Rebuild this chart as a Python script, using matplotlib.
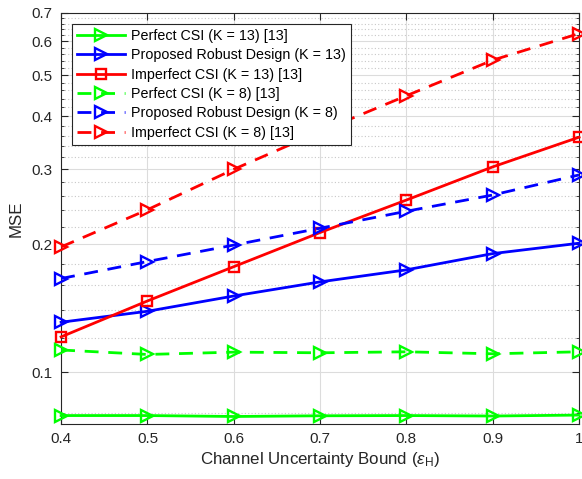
import matplotlib
matplotlib.use("Agg")
import matplotlib.pyplot as plt
from matplotlib.ticker import FixedLocator, FixedFormatter, NullFormatter
import numpy as np

plt.rcParams['font.family'] = ['Liberation Sans', 'DejaVu Sans']
plt.rcParams['mathtext.fontset'] = 'custom'
plt.rcParams['mathtext.rm'] = 'Liberation Sans'
plt.rcParams['mathtext.it'] = 'Liberation Sans:italic'

# Data
eps = [0.4, 0.5, 0.6, 0.7, 0.8, 0.9, 1.0]
perfect_k13 = [0.0790, 0.0790, 0.0786, 0.0789, 0.0790, 0.0788, 0.0792]
robust_k13 = [0.131, 0.139, 0.151, 0.163, 0.174, 0.190, 0.201]
imperfect_k13 = [0.121, 0.147, 0.177, 0.213, 0.254, 0.304, 0.357]
perfect_k8 = [0.1127, 0.1100, 0.1114, 0.1110, 0.1116, 0.1104, 0.1116]
robust_k8 = [0.166, 0.182, 0.199, 0.218, 0.239, 0.261, 0.291]
imperfect_k8 = [0.197, 0.241, 0.300, 0.368, 0.447, 0.542, 0.626]

labels = ['Perfect CSI (K = 13) [13]', 'Proposed Robust Design (K = 13)',
          'Imperfect CSI (K = 13) [13]', 'Perfect CSI (K = 8) [13]',
          'Proposed Robust Design (K = 8)', 'Imperfect CSI (K = 8) [13]']

fig = plt.figure(figsize=(5.82, 4.79), dpi=100)
ax = fig.add_axes([0.105, 0.115, 0.89, 0.858])

lw = 2.0
mew = 1.7
series = [
    (perfect_k13, '#00ff00', '-', '>'),
    (robust_k13, '#0000ff', '-', '>'),
    (imperfect_k13, '#ff0000', '-', 's'),
    (perfect_k8, '#00ff00', '--', '>'),
    (robust_k8, '#0000ff', '--', '>'),
    (imperfect_k8, '#ff0000', '--', '>'),
]
for (vals, c, ls, mk), lab in zip(series, labels):
    ax.plot(eps, vals, color=c, linestyle=ls, marker=mk, lw=lw,
            markersize=8.5 if mk == '>' else 6.5, markerfacecolor='none',
            markeredgewidth=mew, label=lab, dashes=(5, 3.5) if ls == '--' else (None, None),
            clip_on=False, zorder=3)

ax.set_yscale('log')
ax.set_xlim(0.4, 1.0)
ax.set_ylim(0.0755, 0.7)

major_y = [0.1, 0.2, 0.3, 0.4, 0.5, 0.6, 0.7]
ax.yaxis.set_major_locator(FixedLocator(major_y))
ax.yaxis.set_major_formatter(FixedFormatter(['0.1', '0.2', '0.3', '0.4', '0.5', '0.6', '0.7']))
minor_y = [v for v in np.round(np.arange(0.08, 0.7, 0.02), 2) if not np.isclose(v * 10, round(v * 10))]
ax.yaxis.set_minor_locator(FixedLocator(minor_y))
ax.yaxis.set_minor_formatter(NullFormatter())

ax.set_xticks(eps)
ax.set_xticklabels(['0.4', '0.5', '0.6', '0.7', '0.8', '0.9', '1'])

ax.grid(True, which='major', color='#dcdcdc', lw=0.8)
ax.grid(True, which='minor', axis='y', color='#c8c8c8', lw=0.8, linestyle=(0, (1, 2)))
ax.set_axisbelow(True)

ax.tick_params(which='both', direction='in', top=True, right=True, colors='#262626',
               labelsize=11)
ax.tick_params(which='major', length=5, pad=6)
ax.tick_params(which='minor', length=2.5)
for s in ax.spines.values():
    s.set_color('#262626')
    s.set_linewidth(0.8)

ax.set_xlabel(r'Channel Uncertainty Bound ($\epsilon_{\mathrm{H}}$)', fontsize=12.2, color='#262626', labelpad=3)
ax.set_ylabel('MSE', fontsize=12.2, color='#262626', labelpad=6)

leg = ax.legend(loc='upper left', fontsize=10.3, handlelength=3.4, frameon=True, fancybox=False,
                edgecolor='#262626', framealpha=1, borderpad=0.35, labelspacing=0.38,
                handletextpad=0.4, bbox_to_anchor=(0.0, 1.0), borderaxespad=0.75)
leg.get_frame().set_linewidth(0.8)

fig.savefig('out.png', dpi=100)
